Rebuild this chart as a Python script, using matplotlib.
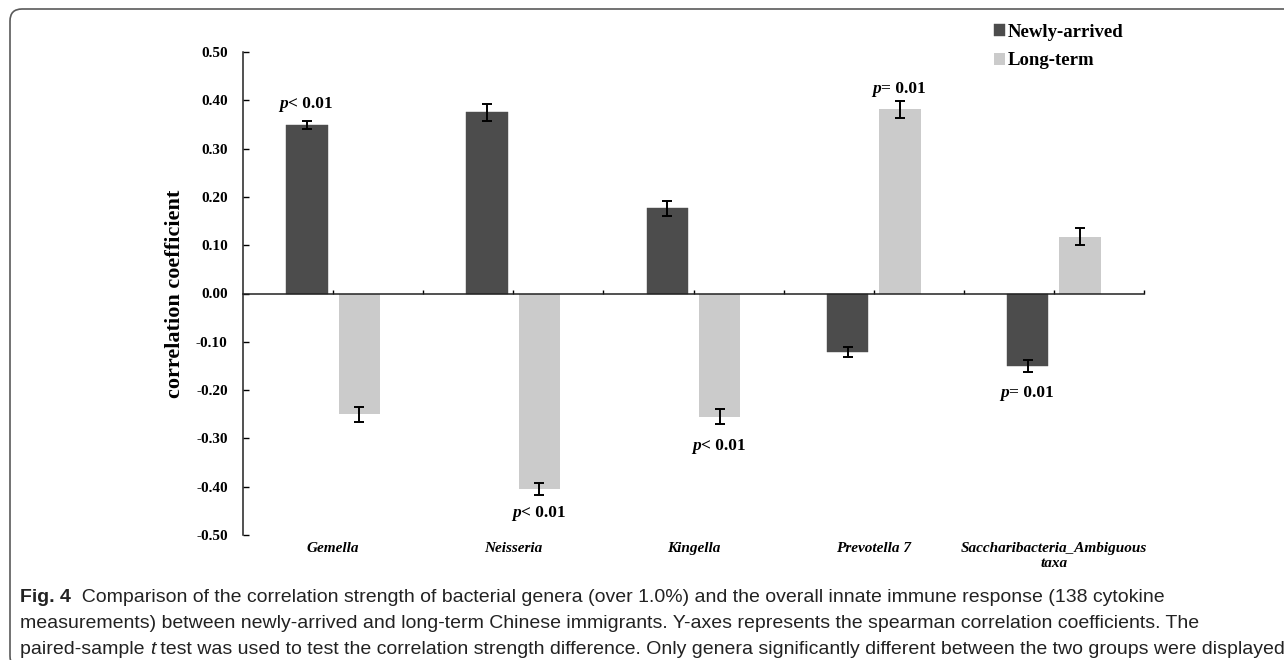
import matplotlib
matplotlib.use('Agg')
import matplotlib.pyplot as plt
import numpy as np
from matplotlib import font_manager
from matplotlib.patches import FancyBboxPatch

categories = ['Gemella', 'Neisseria', 'Kingella', 'Prevotella 7',
              'Saccharibacteria_Ambiguous\ntaxa']
newly = [0.349, 0.375, 0.176, -0.121, -0.150]
newly_err = [0.008, 0.018, 0.016, 0.010, 0.012]
longterm = [-0.250, -0.405, -0.255, 0.381, 0.118]
longterm_err = [0.016, 0.013, 0.016, 0.017, 0.018]
series_names = ['Newly-arrived', 'Long-term']

# p-value notes: which bar (0 newly, 1 long-term), text, y position
p_bar = [0, 1, 1, 1, 0]
p_text = ['< 0.01', '< 0.01', '< 0.01', '= 0.01', '= 0.01']
p_y = [0.393, -0.455, -0.315, 0.424, -0.207]

yticks = [-0.5, -0.4, -0.3, -0.2, -0.1, 0.0, 0.1, 0.2, 0.3, 0.4, 0.5]

caption = [
    [('Fig. 4', 'bold', 'normal'),
     ('  Comparison of the correlation strength of bacterial genera (over 1.0%) and the overall innate immune response (138 cytokine', 'normal', 'normal')],
    [('measurements) between newly-arrived and long-term Chinese immigrants. Y-axes represents the spearman correlation coefficients. The', 'normal', 'normal')],
    [('paired-sample ', 'normal', 'normal'), ('t', 'normal', 'italic'),
     (' test was used to test the correlation strength difference. Only genera significantly different between the two groups were displayed', 'normal', 'normal')],
]

serif = 'Liberation Serif'
installed = {f.name for f in font_manager.fontManager.ttflist}
cap_font = 'Liberation Sans Narrow' if 'Liberation Sans Narrow' in installed else 'Liberation Sans'

dark = '#343434'
light = '#cbcbcb'
plt.rcParams['hatch.linewidth'] = 0.5

fig = plt.figure(figsize=(12.84, 6.60), dpi=100)
ax = fig.add_axes([243 / 1284, 1 - 535 / 660, (1144 - 243) / 1284, 483 / 660])

x = np.arange(len(categories))
w = 0.23
off = 0.145
b1 = ax.bar(x - off, newly, w, color=dark, edgecolor='#4c4c4c', linewidth=0.3,
            hatch='x' * 30, label=series_names[0], zorder=2)
b2 = ax.bar(x + off, longterm, w, color=light, linewidth=0,
            label=series_names[1], zorder=2)
ax.errorbar(x - off, newly, yerr=newly_err, fmt='none', ecolor='black',
            elinewidth=1.4, capsize=3.4, capthick=1.4, zorder=3)
ax.errorbar(x + off, longterm, yerr=longterm_err, fmt='none', ecolor='black',
            elinewidth=1.4, capsize=3.4, capthick=1.4, zorder=3)

ax.set_xlim(-0.5, len(categories) - 0.5)
ax.set_ylim(-0.5, 0.5)
ax.set_yticks(yticks)
ax.set_yticklabels([f'{v:.2f}' for v in yticks], fontfamily=serif,
                   fontweight='bold', fontsize=11)
ax.tick_params(axis='y', direction='in', length=4, width=1, pad=11)

ax.set_xticks(np.arange(0, len(categories), 0.5))
ax.set_xticklabels([])
ax.tick_params(axis='x', direction='in', length=3, width=1)

for s in ['top', 'right']:
    ax.spines[s].set_visible(False)
ax.spines['bottom'].set_position(('data', 0))
for s in ['left', 'bottom']:
    ax.spines[s].set_linewidth(1.1)
    ax.spines[s].set_color('#222222')

ax.set_ylabel('correlation coefficient', fontfamily=serif, fontweight='bold',
              fontsize=16)
ax.yaxis.set_label_coords(-0.064, 0.5)

for i, name in enumerate(categories):
    ax.annotate(name, xy=(i, 0), xycoords=('data', 'axes fraction'),
                xytext=(0, -5), textcoords='offset points', ha='center',
                va='top', fontfamily=serif, fontweight='bold', style='italic',
                fontsize=11, linespacing=1.25)

for i in range(len(categories)):
    xc = i - off if p_bar[i] == 0 else i + off
    ax.annotate('p', xy=(xc, p_y[i]), xytext=(-13.5, 0), textcoords='offset points',
                ha='right', va='center', fontfamily=serif, fontweight='bold',
                style='italic', fontsize=12.5)
    ax.annotate(p_text[i], xy=(xc, p_y[i]), xytext=(-13.5, 0),
                textcoords='offset points', ha='left', va='center',
                fontfamily=serif, fontweight='bold', fontsize=12.5)

fig.legend(handles=[b1, b2], labels=series_names, loc='upper left',
           bbox_to_anchor=(994 / 1284, 1 - 24 / 660), frameon=False,
           prop={'family': serif, 'weight': 'bold', 'size': 13.5},
           handlelength=0.6, handleheight=0.6, handletextpad=0.15,
           labelspacing=0.6, borderpad=0, borderaxespad=0)

# figure frame
frame = FancyBboxPatch((10, -8), 1400, 660 - 9 + 8,
                       boxstyle='round,pad=0,rounding_size=12',
                       transform=None, fill=False, edgecolor='#5a5a5a',
                       linewidth=1.2)
fig.add_artist(frame)

# caption, sized to fit the width of the last line
renderer = fig.canvas.get_renderer()
probe = fig.text(0, 0, ''.join(p[0] for p in caption[2]), fontsize=10,
                 fontfamily=cap_font)
cap_size = 10 * (1282 - 20) / probe.get_window_extent(renderer).width
probe.remove()

line_y = [660 - 597, 660 - 624, 660 - 650]
for pieces, yy in zip(caption, line_y):
    xx = 20
    for s, wt, st in pieces:
        t = fig.text(xx, yy, s, transform=None, fontsize=cap_size,
                     fontweight=wt, style=st, fontfamily=cap_font,
                     va='center', ha='left', color='#222222')
        xx += t.get_window_extent(renderer).width

fig.savefig('out.png', dpi=100)
